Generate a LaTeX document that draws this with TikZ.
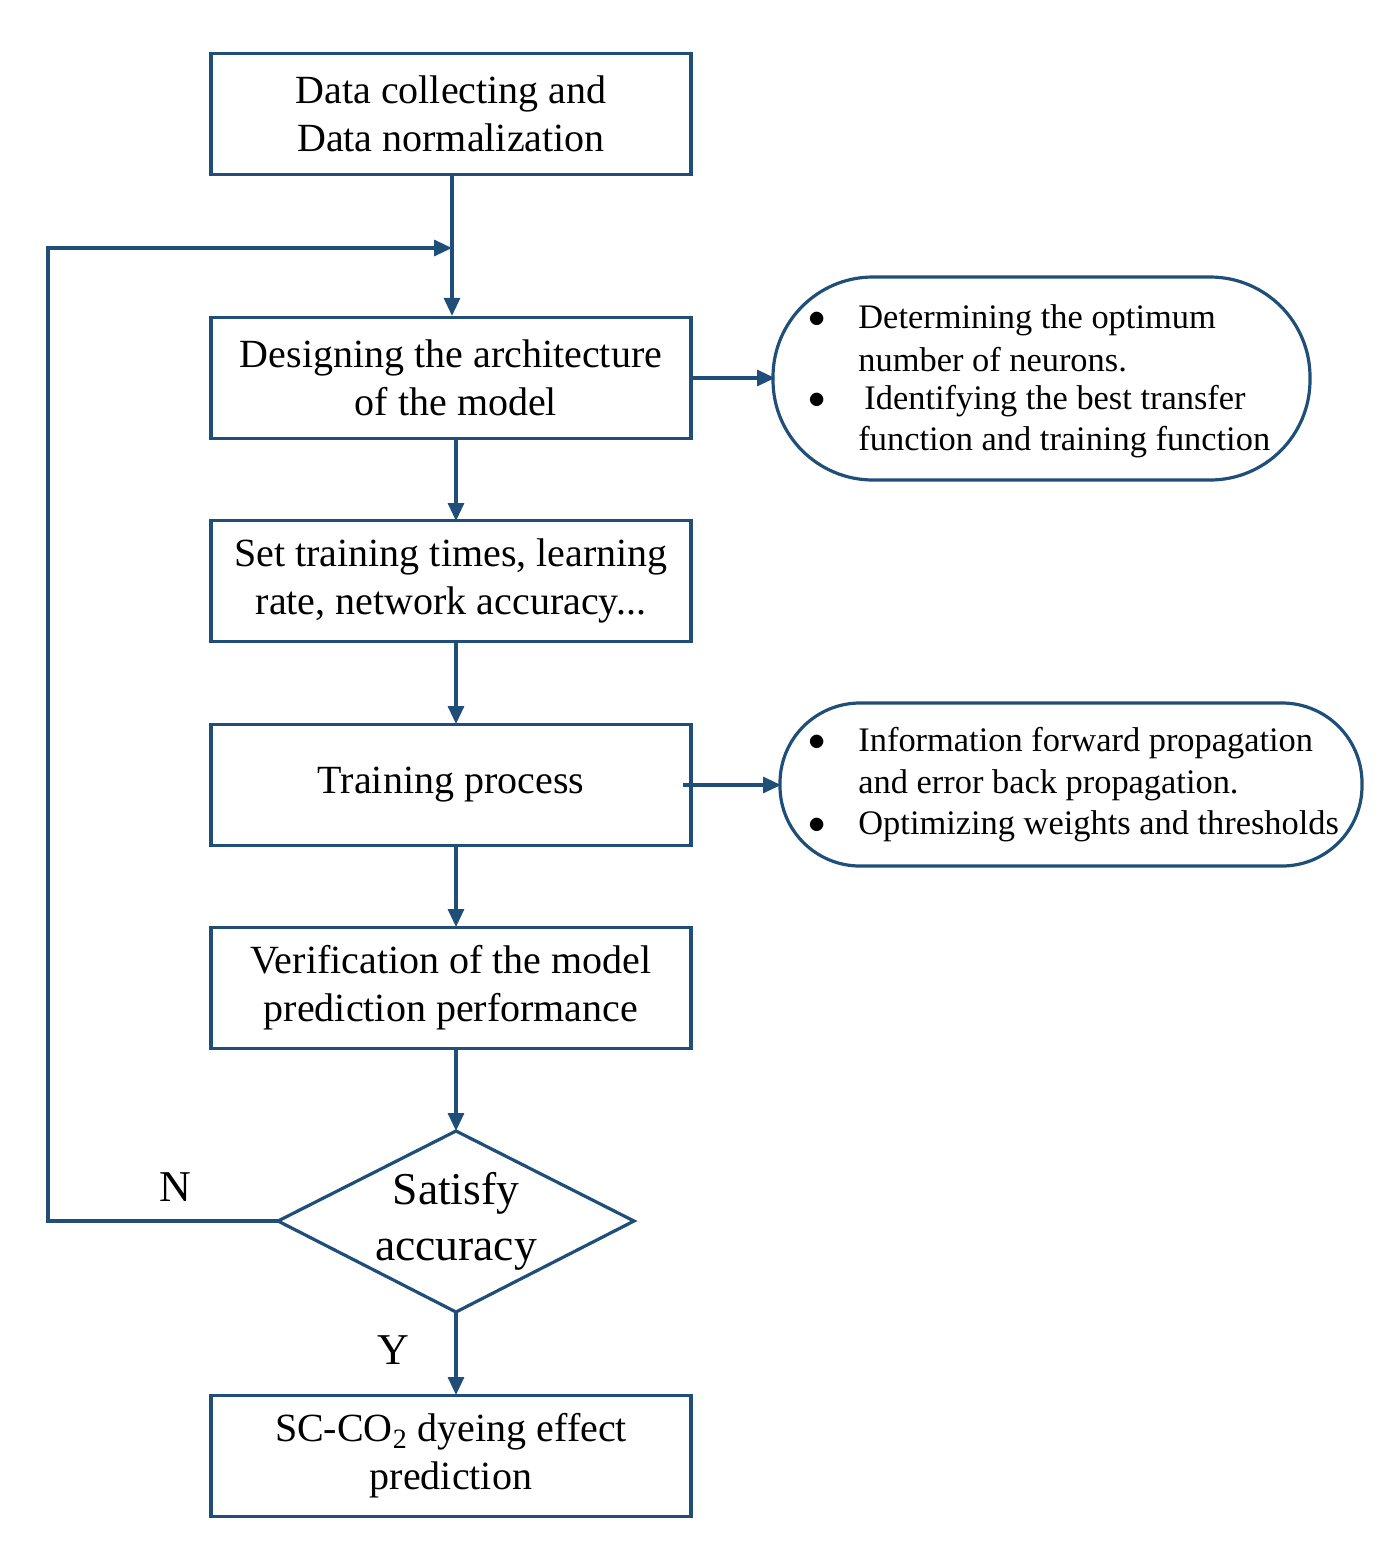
\documentclass[tikz,border=0pt]{standalone}
\usepackage{fontspec}
\setmainfont{Liberation Serif}
\usetikzlibrary{shapes.geometric,arrows.meta}
\definecolor{bl}{HTML}{1F4E79}
\begin{document}
\begin{tikzpicture}[x=0.5pt,y=-0.5pt,
 box/.style={draw=bl,line width=1.6pt,minimum width=240pt,minimum height=60.5pt,align=center,font=\fontsize{20}{24}\selectfont,inner sep=0pt},
 oval/.style={draw=bl,line width=1.6pt,rounded corners=50pt,inner sep=0pt},
 arr/.style={draw=bl,line width=1.6pt,-{Triangle[length=9pt,width=8pt]}},
 sm/.style={font=\fontsize{17.2}{20}\selectfont,anchor=west,inner sep=0pt}]
\useasboundingbox (0,0) rectangle (1390,1564);
\node[box] (b1) at (451,114) {Data collecting and\\Data normalization};
\node[box] (b2) at (451,378) {Designing the architecture\\\ of the model};
\node[box] (b3) at (451,581) {Set training times, learning\\rate, network accuracy...};
\node[box] (b4) at (451,785) {Training process};
\node[box] (b5) at (451,988) {Verification of the model\\prediction performance};
\coordinate (dn) at (456,1131);
\coordinate (ds) at (456,1312);
\coordinate (dw) at (278,1221);
\coordinate (de) at (634,1221);
\draw[bl,line width=1.6pt] (dn) -- (de) -- (ds) -- (dw) -- cycle;
\node[align=center,font=\fontsize{22.8}{28}\selectfont] (d) at (456,1221) {Satisfy\\accuracy};
\node[box] (b6) at (451,1456) {SC-CO\textsubscript{2} dyeing effect\\prediction};
\draw[oval] (773,277) rectangle (1310,480);
\coordinate (o1) at (775,378);
\draw[oval,rounded corners=40pt] (780,703) rectangle (1362,866);
\coordinate (o2) at (781,785);
\node[sm] at (808,320) {$\bullet$}; \node[sm] at (858,320) {Determining the optimum};
\node[sm] at (858,360) {number of neurons.};
\node[sm] at (808,401) {$\bullet$}; \node[sm] at (864,401) {Identifying the best transfer};
\node[sm] at (858,442) {function and training function};
\node[sm] at (808,743) {$\bullet$}; \node[sm] at (858,743) {Information forward propagation};
\node[sm] at (858,785) {and error back propagation.};
\node[sm] at (808,826) {$\bullet$}; \node[sm] at (858,826) {Optimizing weights and thresholds};
\coordinate (j) at (452,248);
\draw[arr] (b1.south -| j) -- (b2.north -| j);
\draw[arr] (456,439) -- (456,521);
\draw[arr] (456,642) -- (456,724);
\draw[arr] (456,846) -- (456,927);
\draw[arr] (456,1049) -- (dn);
\draw[arr] (ds) -- (456,1395);
\draw[arr] (dw) -- (48,1221) -- (48,248) -- (j);
\draw[arr] (b2.east) -- (o1);
\draw[arr] (683,785) -- (o2);
\node[font=\fontsize{22}{26}\selectfont] at (175,1187) {N};
\node[font=\fontsize{22}{26}\selectfont] at (393,1350) {Y};
\end{tikzpicture}
\end{document}
